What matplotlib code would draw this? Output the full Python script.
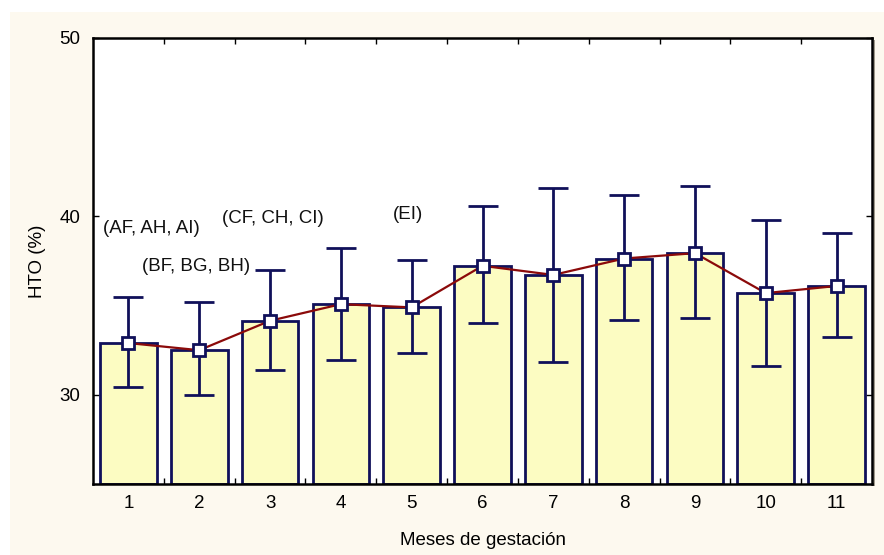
import matplotlib
matplotlib.use("Agg")
import matplotlib.pyplot as plt
from matplotlib.patches import Rectangle
import numpy as np

plt.rcParams['font.family'] = ['Liberation Sans', 'DejaVu Sans']

meses = [1, 2, 3, 4, 5, 6, 7, 8, 9, 10, 11]
media = [32.9, 32.5, 34.15, 35.08, 34.9, 37.23, 36.72, 37.64, 37.94, 35.7, 36.1]
lim_sup = [35.5, 35.2, 37.0, 38.24, 37.55, 40.57, 41.6, 41.2, 41.73, 39.8, 39.09]
lim_inf = [30.46, 30.0, 31.4, 31.94, 32.37, 34.0, 31.85, 34.22, 34.28, 31.64, 33.25]

grupos = ["(AF, AH, AI)", "(BF, BG, BH)", "(CF, CH, CI)", "(EI)"]
grupos_pos = [(1.33, 39.3), (1.95, 37.17), (3.04, 39.9), (4.95, 40.08)]

navy = "#10105a"
rojo = "#8b0a0a"
crema = "#fdf9ef"
amarillo = "#fcfcc2"
fs = 13.5

fig = plt.figure(figsize=(8.84, 5.55), dpi=100)
fig.patch.set_facecolor("white")
fig.patches.append(Rectangle((10 / 884, 0), 1 - 10 / 884, 1 - 12 / 555,
                             transform=fig.transFigure, facecolor=crema,
                             edgecolor="none", zorder=-10))

ax = fig.add_axes([93 / 884, 1 - 484 / 555, (872 - 93) / 884, (484 - 38) / 555])
ax.set_facecolor("white")

# drop shadow on the right of the plot frame
fig.patches.append(Rectangle((872 / 884, 1 - 486 / 555), 3 / 884, (486 - 40) / 555,
                             transform=fig.transFigure, facecolor="#a09a8c",
                             edgecolor="none", zorder=-5))

x = np.array(meses)
m = np.array(media)
ax.bar(x, m - 25, bottom=25, width=0.8, color=amarillo, edgecolor=navy,
       linewidth=2, zorder=2)
err = [m - np.array(lim_inf), np.array(lim_sup) - m]
ax.errorbar(x, m, yerr=err, fmt="none", ecolor=navy, elinewidth=2,
            capsize=11, capthick=2, zorder=3)
ax.plot(x, m, color=rojo, linewidth=1.6, zorder=4)
ax.plot(x, m, linestyle="none", marker="s", markersize=8.5,
        markerfacecolor="white", markeredgecolor=navy, markeredgewidth=2,
        zorder=5)

for txt, (px, py) in zip(grupos, grupos_pos):
    ax.text(px, py, txt, ha="center", va="center", fontsize=fs, color="#111111")

ax.set_xlim(0.5, 11.5)
ax.set_ylim(25, 50)
ax.set_yticks([30, 40, 50])
ax.set_xticks(x)
ax.set_xticklabels([str(v) for v in meses])
ax.set_xticks(np.arange(1.5, 11.5, 1), minor=True)
ax.tick_params(axis="x", which="major", length=0, pad=8, labelsize=fs)
ax.tick_params(axis="x", which="minor", direction="in", length=4, width=1,
               top=True, bottom=True)
ax.tick_params(axis="y", which="major", direction="in", length=4, width=1,
               left=True, right=True, pad=9, labelsize=fs)
for s in ax.spines.values():
    s.set_linewidth(1.8)
    s.set_color("black")

ax.set_xlabel("Meses de gestación", fontsize=fs, labelpad=14)
ax.set_ylabel("HTO (%)", fontsize=fs, labelpad=10)

fig.savefig("out.png", dpi=100, facecolor=fig.get_facecolor())
